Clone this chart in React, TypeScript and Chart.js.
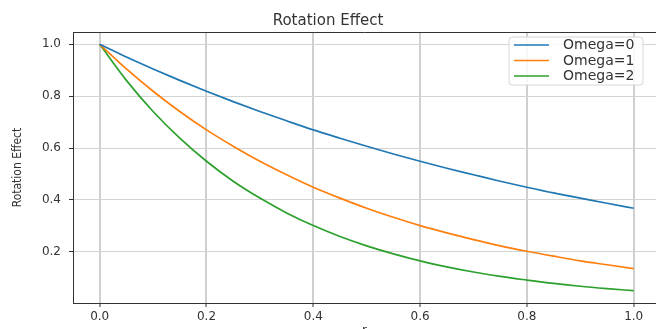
import React, { useEffect, useRef } from "react";
import { Chart, registerables } from "chart.js";

Chart.register(...registerables);

const rValues = [0, 0.05, 0.1, 0.15, 0.2, 0.25, 0.3, 0.35, 0.4, 0.45, 0.5, 0.55, 0.6, 0.65, 0.7, 0.75, 0.8, 0.85, 0.9, 0.95, 1.0];
const omega0 = [1.0, 0.951, 0.905, 0.861, 0.819, 0.779, 0.741, 0.705, 0.67, 0.638, 0.607, 0.577, 0.549, 0.522, 0.497, 0.472, 0.449, 0.427, 0.407, 0.387, 0.368];
const omega1 = [1.0, 0.905, 0.819, 0.741, 0.67, 0.607, 0.549, 0.497, 0.449, 0.407, 0.368, 0.333, 0.301, 0.273, 0.247, 0.223, 0.202, 0.183, 0.165, 0.15, 0.135];
const omega2 = [1.0, 0.861, 0.741, 0.638, 0.549, 0.472, 0.407, 0.35, 0.301, 0.259, 0.223, 0.192, 0.165, 0.142, 0.122, 0.105, 0.091, 0.078, 0.067, 0.058, 0.05];
const seriesLabels = ["Omega=0", "Omega=1", "Omega=2"];
const seriesColors = ["#1f77b4", "#ff7f0e", "#2ca02c"];
const xTicks = [0, 0.2, 0.4, 0.6, 0.8, 1.0];
const yTicks = [0.2, 0.4, 0.6, 0.8, 1.0];

const TEXT = "#333333";
const FONT = "'DejaVu Sans', sans-serif";

const frameAndLegend = {
  id: "frameAndLegend",
  afterDraw(chart: any) {
    const { ctx, chartArea } = chart;
    ctx.save();
    // top spine
    ctx.strokeStyle = "#333333";
    ctx.lineWidth = 1;
    ctx.beginPath();
    ctx.moveTo(chartArea.left, chartArea.top + 0.5);
    ctx.lineTo(chartArea.right, chartArea.top + 0.5);
    ctx.stroke();

    // legend box
    const bx = 509, by = 37, bw = 134, bh = 48, r = 3;
    ctx.beginPath();
    ctx.moveTo(bx + r, by);
    ctx.lineTo(bx + bw - r, by);
    ctx.quadraticCurveTo(bx + bw, by, bx + bw, by + r);
    ctx.lineTo(bx + bw, by + bh - r);
    ctx.quadraticCurveTo(bx + bw, by + bh, bx + bw - r, by + bh);
    ctx.lineTo(bx + r, by + bh);
    ctx.quadraticCurveTo(bx, by + bh, bx, by + bh - r);
    ctx.lineTo(bx, by + r);
    ctx.quadraticCurveTo(bx, by, bx + r, by);
    ctx.closePath();
    ctx.fillStyle = "rgba(255,255,255,0.85)";
    ctx.fill();
    ctx.strokeStyle = "#d6d6d6";
    ctx.stroke();

    ctx.font = "14px " + FONT;
    ctx.textBaseline = "middle";
    ctx.textAlign = "left";
    chart.data.datasets.forEach((ds: any, i: number) => {
      const y = 45 + i * 15.5;
      ctx.strokeStyle = ds.borderColor;
      ctx.lineWidth = 1.5;
      ctx.beginPath();
      ctx.moveTo(514, y);
      ctx.lineTo(549, y);
      ctx.stroke();
      ctx.fillStyle = TEXT;
      ctx.fillText(ds.label, 563, y + 0.5);
    });
    ctx.restore();
  },
};

export default function App() {
  const ref = useRef<HTMLCanvasElement | null>(null);

  useEffect(() => {
    document.body.style.margin = "0";
    const canvas = ref.current;
    if (!canvas) return;
    const series = [omega0, omega1, omega2];
    const chart = new Chart(canvas, {
      type: "line",
      data: {
        datasets: series.map((vals, i) => ({
          label: seriesLabels[i],
          data: vals.map((v, j) => ({ x: rValues[j], y: v })),
          borderColor: seriesColors[i],
          backgroundColor: seriesColors[i],
          borderWidth: 1.7,
          pointRadius: 0,
          fill: false,
          cubicInterpolationMode: "monotone" as const,
        })),
      },
      options: {
        responsive: false,
        animation: false,
        devicePixelRatio: 1,
        layout: { padding: { top: 0, right: 0, left: 0, bottom: 0 } },
        plugins: {
          legend: { display: false },
          tooltip: { enabled: false },
          title: {
            display: true,
            text: "Rotation Effect",
            color: TEXT,
            font: { family: FONT, size: 15, weight: "normal" },
            padding: { top: 12, bottom: 2 },
          },
        },
        scales: {
          x: {
            type: "linear",
            min: -0.05,
            max: 1.0418,
            afterBuildTicks: (s: any) => {
              s.ticks = xTicks.map((v) => ({ value: v }));
            },
            afterFit: (s: any) => {
              s.height = 26;
            },
            ticks: {
              color: TEXT,
              font: { family: FONT, size: 12 },
              padding: 3,
              maxRotation: 0,
              callback: (v: any) => Number(v).toFixed(1),
            },
            grid: {
              color: "#cfcfcf",
              lineWidth: 2,
              tickColor: "#333333",
              tickLength: 4,
              tickWidth: 1,
            },
            border: { display: true, color: "#333333", width: 1 },
            title: {
              display: true,
              text: "r",
              color: TEXT,
              font: { family: FONT, size: 12 },
              padding: { top: 0, bottom: -9 },
            },
          },
          y: {
            type: "linear",
            min: 0.0025,
            max: 1.0475,
            afterBuildTicks: (s: any) => {
              s.ticks = yTicks.map((v) => ({ value: v }));
            },
            afterFit: (s: any) => {
              s.width = 73;
            },
            ticks: {
              color: TEXT,
              font: { family: FONT, size: 12 },
              padding: 8,
              callback: (v: any) => Number(v).toFixed(1),
            },
            grid: {
              color: "#d4d4d4",
              lineWidth: 1,
              tickColor: "#333333",
              tickLength: 4,
              tickWidth: 1,
            },
            border: { display: true, color: "#333333", width: 1 },
            title: {
              display: true,
              text: "Rotation Effect",
              color: TEXT,
              font: { family: "'Liberation Sans Narrow', 'DejaVu Sans Condensed', sans-serif", size: 12 },
              padding: { top: 11, bottom: 0 },
            },
          },
        },
      },
      plugins: [frameAndLegend],
    });
    return () => chart.destroy();
  }, []);

  return (
    <div style={{ width: 656, height: 329, overflow: "hidden" }}>
      <canvas ref={ref} width={656} height={329} style={{ display: "block", width: 656, height: 329 }} />
    </div>
  );
}
